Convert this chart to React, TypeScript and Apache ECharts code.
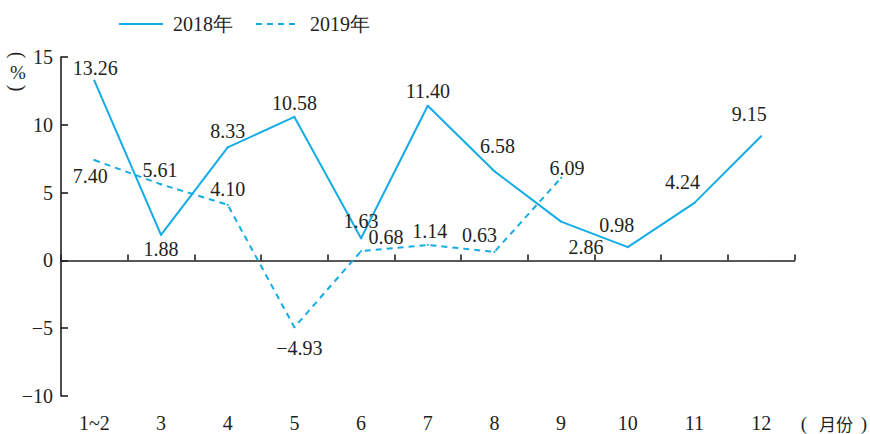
import React, { useEffect, useRef } from "react";
import * as echarts from "echarts";

// Month categories and year-on-year growth (%)
const months = ["1~2", "3", "4", "5", "6", "7", "8", "9", "10", "11", "12"];
const growth2018 = [13.26, 1.88, 8.33, 10.58, 1.63, 11.4, 6.58, 2.86, 0.98, 4.24, 9.15];
const growth2019 = [7.4, 5.61, 4.1, -4.93, 0.68, 1.14, 0.63, 6.09];
const seriesNames = ["2018年", "2019年"];

// Label placement relative to each point (px), keeps labels clear of the lines
const labelShift2018 = [
  [1, -13], [0, 14], [0, -16], [0, -14], [0, -17], [0, -15],
  [3, -25], [25, 25], [-11, -22], [-12, -21], [-12, -22],
];
const labelShift2019 = [
  [-4, 16], [-1, -14], [0, -16], [5, 21], [25, -14], [2, -14], [-15, -17], [6, -10],
];

const LINE = "#14ace4";
const INK = "#231f20";
const SERIF = "'Liberation Serif', 'Times New Roman', serif";
const CJK = "'Noto Sans CJK SC', sans-serif";

const fmt = (v: number) => (v < 0 ? "\u2212" + Math.abs(v).toFixed(2) : v.toFixed(2));

const App: React.FC = () => {
  const ref = useRef<HTMLDivElement>(null);

  useEffect(() => {
    if (!ref.current) return;
    const chart = echarts.init(ref.current, undefined, { renderer: "svg" });

    const labelBase = {
      show: true,
      position: "inside" as const,
      fontSize: 20,
      fontFamily: SERIF,
      color: INK,
      formatter: (p: any) => fmt(p.value),
    };

    const centered = (text: string, size: number, family: string) => ({
      text,
      fontSize: size,
      lineHeight: size,
      fontFamily: family,
      fill: INK,
      align: "center",
      verticalAlign: "middle",
    });

    chart.setOption({
      animation: false,
      grid: { left: 61, right: 75.5, top: 57, bottom: 38, containLabel: false },
      legend: {
        left: 113,
        top: 9,
        itemWidth: 44,
        itemHeight: 14,
        itemGap: 22,
        itemStyle: { opacity: 0 },
        textStyle: { fontSize: 20, fontFamily: SERIF, color: INK, padding: [0, 0, 0, 5] },
        data: seriesNames,
      },
      xAxis: [
        {
          type: "category",
          data: months,
          position: "bottom",
          axisLine: { onZero: true, lineStyle: { color: INK, width: 1.6 } },
          axisTick: { show: true, inside: true, length: 6, lineStyle: { color: INK, width: 1.6 } },
          axisLabel: { show: false },
          splitLine: { show: false },
        },
        {
          type: "category",
          data: months,
          position: "bottom",
          axisLine: { show: false, onZero: false },
          axisTick: { show: false },
          axisLabel: { show: true, margin: 17, fontSize: 20, fontFamily: SERIF, color: INK },
          splitLine: { show: false },
        },
      ],
      yAxis: {
        type: "value",
        min: -10,
        max: 15,
        interval: 5,
        axisLine: { show: true, lineStyle: { color: INK, width: 1.6 } },
        axisTick: { show: true, inside: true, length: 7, lineStyle: { color: INK, width: 1.6 } },
        axisLabel: {
          margin: 8,
          fontSize: 20,
          fontFamily: SERIF,
          color: INK,
          formatter: (v: number) => (v < 0 ? "\u2212" + Math.abs(v) : String(v)),
        },
        splitLine: { show: false },
      },
      series: [
        {
          name: seriesNames[0],
          type: "line",
          xAxisIndex: 0,
          symbol: "circle",
          symbolSize: 2,
          itemStyle: { color: LINE },
          lineStyle: { color: LINE, width: 2 },
          data: growth2018.map((v, i) => ({ value: v, label: { offset: labelShift2018[i] } })),
          label: labelBase,
        },
        {
          name: seriesNames[1],
          type: "line",
          xAxisIndex: 0,
          symbol: "circle",
          symbolSize: 2,
          itemStyle: { color: LINE },
          lineStyle: { color: LINE, width: 2, type: [6, 5] },
          data: growth2019.map((v, i) => ({ value: v, label: { offset: labelShift2019[i] } })),
          label: labelBase,
        },
      ],
      graphic: [
        // y-axis unit, written vertically: rotated brackets around "%"
        { type: "text", x: 18, y: 55, rotation: -Math.PI / 2, style: centered("(", 20, SERIF) },
        { type: "text", x: 18, y: 72, style: centered("%", 19, SERIF) },
        { type: "text", x: 18, y: 88, rotation: -Math.PI / 2, style: centered(")", 20, SERIF) },
        // x-axis unit
        { type: "text", x: 804, y: 423, style: centered("(", 19, SERIF) },
        { type: "text", x: 836, y: 423, style: centered("月份", 17, CJK) },
        { type: "text", x: 864, y: 423, style: centered(")", 19, SERIF) },
      ],
    });

    return () => chart.dispose();
  }, []);

  return (
    <div
      ref={ref}
      style={{ position: "absolute", left: 0, top: 0, width: 870, height: 434, background: "#ffffff" }}
    />
  );
};

export default App;
